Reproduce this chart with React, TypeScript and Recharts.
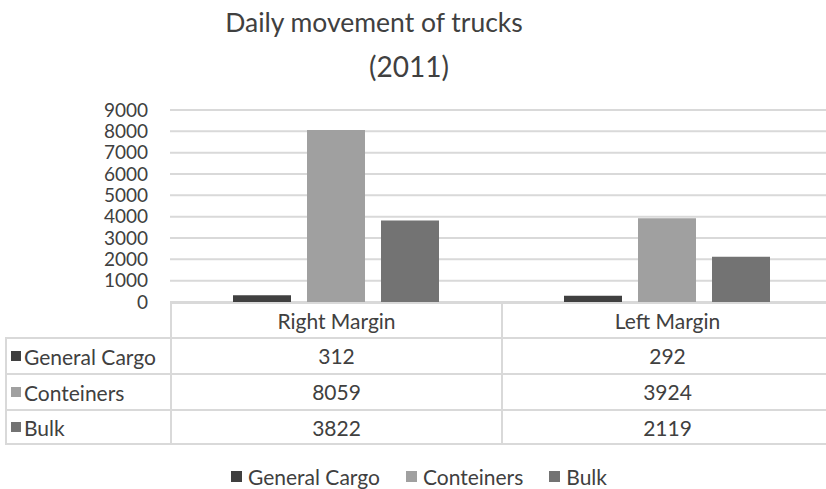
import { BarChart, Bar, YAxis, XAxis, CartesianGrid } from 'recharts';

const categories = ['Right Margin', 'Left Margin'];
const generalCargo = [312, 292];
const conteiners = [8059, 3924];
const bulk = [3822, 2119];
const yTicks = [0, 1000, 2000, 3000, 4000, 5000, 6000, 7000, 8000, 9000];

const series = [
  { key: 'generalCargo', name: 'General Cargo', color: '#404040', values: generalCargo },
  { key: 'conteiners', name: 'Conteiners', color: '#a0a0a0', values: conteiners },
  { key: 'bulk', name: 'Bulk', color: '#737373', values: bulk },
];

const data = categories.map((c, i) => ({
  category: c,
  generalCargo: generalCargo[i],
  conteiners: conteiners[i],
  bulk: bulk[i],
}));

const font = 'Lato, sans-serif';
const border = '#d9d9d9';
const textColor = '#404040';

export default function App() {
  const plotLeft = 170;
  const colW = 331;
  return (
    <div style={{ position: 'absolute', left: 0, top: 0, width: 826, height: 489, overflow: 'hidden', background: '#fff', fontFamily: font, color: textColor }}>
      <div style={{ position: 'absolute', left: 0, width: 748, top: 4, textAlign: 'center', fontSize: 26.5, lineHeight: '36px' }}>Daily movement of trucks</div>
      <div style={{ position: 'absolute', left: 0, width: 818, top: 47, textAlign: 'center', fontSize: 28, lineHeight: '38px' }}>(2011)</div>

      <BarChart width={832} height={489} data={data} margin={{ top: 110, right: 0, bottom: 187, left: 0 }} barSize={58} barGap={16}>
        <CartesianGrid vertical={false} stroke={border} strokeWidth={2} />
        <XAxis dataKey="category" hide />
        <YAxis
          width={plotLeft}
          domain={[0, 9000]}
          ticks={yTicks}
          interval={0}
          axisLine={false}
          tickLine={false}
          tickSize={0}
          tickMargin={22}
          tick={{ fill: textColor, fontSize: 19, fontFamily: font }}
        />
        {series.map((s) => (
          <Bar key={s.key} dataKey={s.key} name={s.name} fill={s.color} isAnimationActive={false} />
        ))}
      </BarChart>

      {/* data table */}
      <div style={{ position: 'absolute', left: plotLeft, top: 302, width: colW * 2, height: 35, display: 'flex', borderTop: `2px solid ${border}`, boxSizing: 'border-box' }}>
        {categories.map((c) => (
          <div key={c} style={{ width: colW, borderLeft: `2px solid ${border}`, boxSizing: 'border-box', textAlign: 'center', fontSize: 21, lineHeight: '33px' }}>{c}</div>
        ))}
      </div>
      {series.map((s, r) => (
        <div key={s.key} style={{ position: 'absolute', left: 5, top: 337 + r * 36, height: 36, width: 165 + colW * 2, display: 'flex', borderTop: `2px solid ${border}`, borderBottom: r === series.length - 1 ? `2px solid ${border}` : 'none', boxSizing: 'border-box' }}>
          <div style={{ width: 165, borderLeft: `2px solid ${border}`, boxSizing: 'border-box', display: 'flex', alignItems: 'center', fontSize: 21, whiteSpace: 'nowrap' }}>
            <span style={{ display: 'inline-block', width: 10, height: 10, background: s.color, marginLeft: 4, marginRight: 3, flexShrink: 0 }} />
            {s.name}
          </div>
          {s.values.map((v, i) => (
            <div key={i} style={{ width: colW, borderLeft: `2px solid ${border}`, boxSizing: 'border-box', textAlign: 'center', fontSize: 21, lineHeight: '34px' }}>{v}</div>
          ))}
        </div>
      ))}

      {/* legend */}
      <div style={{ position: 'absolute', left: 0, width: 838, top: 464, display: 'flex', justifyContent: 'center', alignItems: 'center', fontSize: 21, gap: 26 }}>
        {series.map((s) => (
          <div key={s.key} style={{ display: 'flex', alignItems: 'center' }}>
            <span style={{ display: 'inline-block', width: 11, height: 11, background: s.color, marginRight: 6 }} />
            {s.name}
          </div>
        ))}
      </div>
    </div>
  );
}
